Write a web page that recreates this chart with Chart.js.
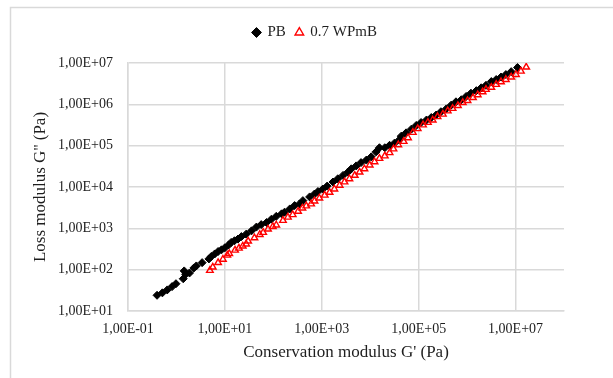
<!DOCTYPE html>
<html>
<head>
<meta charset="utf-8">
<script src="https://cdn.jsdelivr.net/npm/chart.js@4.4.1/dist/chart.umd.min.js"></script>
<style>
  html, body { margin: 0; padding: 0; background: #ffffff; }
  #wrap { width: 613px; height: 378px; position: relative; }
</style>
</head>
<body>
<div id="wrap"><canvas id="c" width="613" height="378"></canvas></div>
<script>
// ---- Data ----
const seriesNames = ['PB', '0.7 WPmB'];

const pbX = [0.398, 0.513, 0.646, 0.813, 0.977, 1.38, 1.445, 1.549, 1.862, 2.29,
  2.57, 3.39, 4.68, 5.25, 6.17, 7.24, 8.51, 10.0, 12.0, 13.5,
  15.8, 18.6, 21.9, 27.5, 35.5, 44.7, 56.2, 72.4, 91.2, 115,
  148, 170, 219, 275, 347, 407, 562, 708, 832, 1050,
  1290, 1700, 2140, 2750, 3470, 4070, 5130, 6460, 8320, 10500,
  13200, 15500, 20000, 25100, 31600, 39800, 43700, 55000, 70800, 89100,
  112000, 145000, 182000, 229000, 288000, 372000, 468000, 589000, 759000, 955000,
  1200000, 1550000, 1950000, 2450000, 3160000, 3980000, 5010000, 6310000, 8130000, 11000000];
const pbY = [24.0, 27.5, 32.4, 38.9, 45.7, 60.3, 93.3, 77.6, 83.2, 110,
  123, 148, 182, 209, 240, 275, 302, 339, 398, 457,
  501, 550, 631, 724, 871, 1072, 1230, 1380, 1660, 1950,
  2240, 2450, 2950, 3550, 3890, 4680, 5750, 6760, 7760, 8910,
  10500, 13200, 15800, 19100, 22900, 27500, 32400, 38900, 44700, 53700,
  70800, 89100, 89100, 102000, 115000, 138000, 170000, 204000, 251000, 309000,
  363000, 417000, 479000, 550000, 661000, 776000, 955000, 1150000, 1290000, 1550000,
  1860000, 2140000, 2510000, 2880000, 3550000, 3980000, 4570000, 5250000, 6170000, 7760000];

const wpX = [4.90, 5.62, 7.24, 9.12, 11.2, 12.3, 16.2, 19.5, 23.4, 27.5,
  30.2, 40.7, 52.5, 61.7, 77.6, 97.7, 115, 158, 200, 251,
  324, 398, 479, 603, 708, 891, 1150, 1450, 1820, 2340,
  2950, 3720, 4790, 6030, 7590, 9770, 12300, 15500, 20000, 25100,
  30200, 38000, 49000, 60300, 75900, 95500, 123000, 155000, 195000, 245000,
  316000, 398000, 501000, 646000, 813000, 1020000, 1320000, 1660000, 2090000, 2450000,
  3160000, 3980000, 5010000, 6310000, 8130000, 10200000, 12900000, 16600000];
const wpY = [95.5, 115, 148, 178, 224, 245, 295, 331, 372, 417,
  490, 589, 708, 794, 955, 1100, 1200, 1550, 1860, 2140,
  2570, 3090, 3470, 3890, 4570, 5370, 6310, 7410, 8910, 11000,
  13200, 15800, 19100, 22900, 27500, 33900, 40700, 49000, 56200, 67600,
  83200, 105000, 126000, 155000, 209000, 257000, 316000, 363000, 417000, 501000,
  575000, 692000, 794000, 933000, 1100000, 1230000, 1450000, 1700000, 2000000, 2290000,
  2570000, 3020000, 3510000, 3980000, 4570000, 5250000, 6310000, 7940000];

const xTickValues = [0.1, 10, 1000, 100000, 10000000];
const xTickLabels = ['1,00E-01', '1,00E+01', '1,00E+03', '1,00E+05', '1,00E+07'];
const yTickValues = [10, 100, 1000, 10000, 100000, 1000000, 10000000];
const yTickLabels = ['1,00E+01', '1,00E+02', '1,00E+03', '1,00E+04', '1,00E+05', '1,00E+06', '1,00E+07'];

const xTitle = "Conservation modulus G' (Pa)";
const yTitle = "Loss modulus G'' (Pa)";

// ---- Chart ----
const FONT = "'Liberation Serif', 'Times New Roman', serif";
const TXT = '#1e1e1e';
const GRID = '#d9d9d9';

Chart.defaults.font.family = FONT;
Chart.defaults.color = TXT;

const toPts = (xs, ys) => xs.map((x, i) => ({ x: x, y: ys[i] }));

const frame = {
  id: 'frame',
  beforeDraw(chart) {
    const ctx = chart.ctx;
    ctx.save();
    ctx.fillStyle = '#ffffff';
    ctx.fillRect(0, 0, chart.width, chart.height);
    ctx.strokeStyle = GRID;
    ctx.lineWidth = 1.5;
    ctx.strokeRect(10.5, 7.5, chart.width + 20, chart.height + 20);
    ctx.restore();
  }
};

// legend box: fixed height, and centred over the page like the reference
const legendTweak = {
  id: 'legendTweak',
  beforeLayout(chart) {
    const lg = chart.legend;
    if (lg && !lg._patched) {
      const origFit = lg.fit;
      lg.fit = function () { origFit.call(this); this.height = 49; };
      const origDraw = lg.draw;
      lg.draw = function () {
        const ctx = this.ctx;
        ctx.save();
        ctx.translate(33, 1);
        origDraw.call(this);
        ctx.restore();
      };
      lg._patched = true;
    }
  }
};

new Chart(document.getElementById('c'), {
  type: 'scatter',
  data: {
    datasets: [
      {
        label: seriesNames[0],
        data: toPts(pbX, pbY),
        pointStyle: 'rectRot',
        pointRadius: 4,
        backgroundColor: '#000000',
        borderColor: '#000000',
        borderWidth: 1,
        order: 1
      },
      {
        label: seriesNames[1],
        data: toPts(wpX, wpY),
        pointStyle: 'triangle',
        pointRadius: 3.8,
        backgroundColor: 'rgba(255,255,255,0)',
        borderColor: '#ff0000',
        borderWidth: 1.4,
        order: 0
      }
    ]
  },
  options: {
    responsive: false,
    animation: false,
    layout: { padding: { top: 14, right: 49, left: 0, bottom: 0 } },
    plugins: {
      tooltip: { enabled: false },
      legend: {
        position: 'top',
        labels: {
          usePointStyle: true,
          boxWidth: 7,
          boxHeight: 7,
          padding: 10,
          color: TXT,
          font: { family: FONT, size: 15 },
          sort: (a, b) => a.datasetIndex - b.datasetIndex
        }
      }
    },
    scales: {
      x: {
        type: 'logarithmic',
        min: 0.1,
        max: 100000000,
        afterBuildTicks(scale) { scale.ticks = xTickValues.map(v => ({ value: v })); },
        afterFit(scale) { scale.height = 67; },
        ticks: {
          autoSkip: false,
          maxRotation: 0,
          padding: 10,
          color: TXT,
          font: { family: FONT, size: 14 },
          callback: (v, i) => xTickLabels[i]
        },
        grid: { color: GRID, lineWidth: 1.5, drawTicks: false },
        border: { color: GRID, width: 1.5 },
        title: {
          display: true,
          text: xTitle,
          color: TXT,
          font: { family: FONT, size: 17 },
          padding: { top: 15, bottom: 15 }
        }
      },
      y: {
        type: 'logarithmic',
        min: 10,
        max: 10000000,
        afterBuildTicks(scale) { scale.ticks = yTickValues.map(v => ({ value: v })); },
        afterFit(scale) { scale.width = 128; },
        ticks: {
          autoSkip: false,
          padding: 15,
          color: TXT,
          font: { family: FONT, size: 14 },
          callback: (v, i) => yTickLabels[i]
        },
        grid: { color: GRID, lineWidth: 1.5, drawTicks: false },
        border: { color: GRID, width: 1.5 },
        title: {
          display: true,
          text: yTitle,
          color: TXT,
          font: { family: FONT, size: 17 },
          padding: { top: 30, bottom: 30 }
        }
      }
    }
  },
  plugins: [frame, legendTweak]
});
</script>
</body>
</html>
